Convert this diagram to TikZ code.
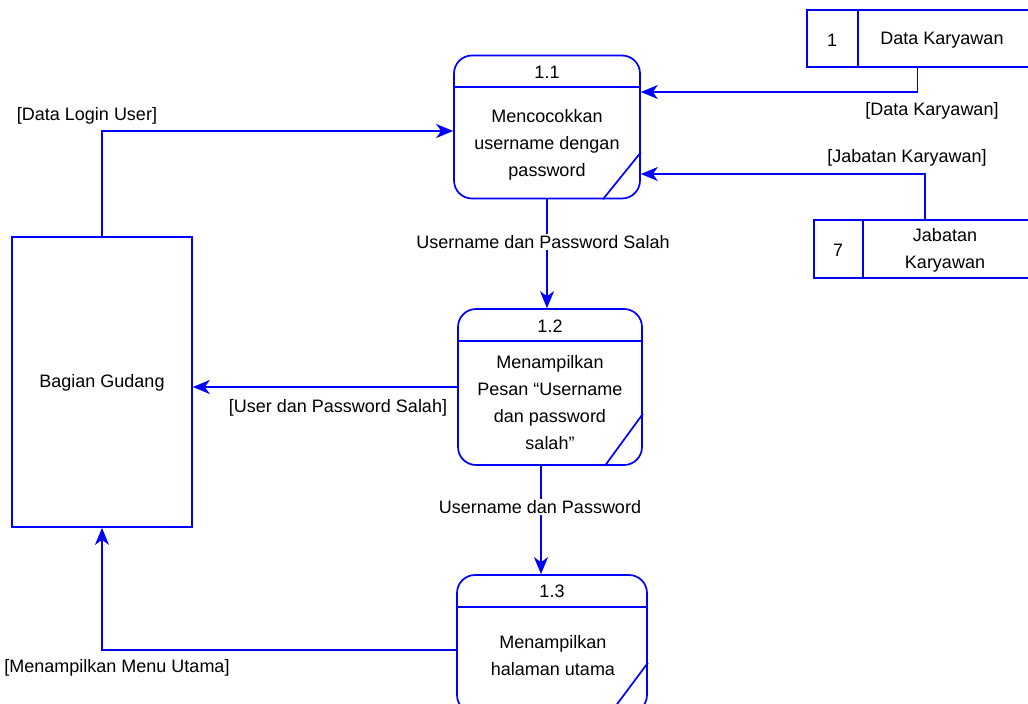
\documentclass[tikz,border=0pt]{standalone}
\usepackage{fontspec}
\setmainfont{Liberation Sans}
\usetikzlibrary{positioning, arrows.meta, calc}
\definecolor{dfdBlue}{RGB}{0,0,255}
\tikzstyle{proc}  = [draw=dfdBlue, line width=1.7pt, rounded corners=18pt, inner sep=0pt]
\tikzstyle{entity}= [draw=dfdBlue, line width=1.7pt, inner sep=0pt]
\tikzstyle{edge}  = [draw=dfdBlue, line width=1.7pt]
\tikzstyle{flow}  = [-{Stealth[length=17pt, width=14pt, inset=5pt]}, draw=dfdBlue, line width=1.7pt]
\tikzstyle{lbl}   = [fill=white, inner sep=1pt]

\begin{document}
\begin{tikzpicture}[x=1pt, y=-1pt, font=\fontsize{18}{27}\selectfont]
% page: 1028 x 704, y runs downwards
\useasboundingbox (0,0) rectangle (1028,704);
% external entity
\node[entity, minimum width=180pt, minimum height=290pt] (gudang) at (102,382) {};
\node (gudangtxt) at (102,383) {Bagian Gudang};
% processes
\node[proc, minimum width=186pt, minimum height=143pt] (p11) at (547,127) {};
\node[proc, minimum width=184pt, minimum height=156pt] (p12) at (550,387) {};
\node[proc, minimum width=190pt, minimum height=138pt] (p13) at (552,644) {};
\foreach \p/\d/\c in {p11/32/47, p12/33/52, p13/33/51}{
  \draw[edge] ($(\p.north west)+(0,\d)$) -- ($(\p.north east)+(0,\d)$);
  \draw[edge] ($(\p.south east)+(0,-\c)$) -- ($(\p.south east)+(-38,0)$);
}
\node (p11num) at (547,72) {1.1};
\node[align=center] (p11txt) at (547,145) {Mencocokkan\\username dengan\\password};
\node (p12num) at (550,326) {1.2};
\node[align=center] (p12txt) at (550,403) {Menampilkan\\Pesan “Username\\dan password\\salah”};
\node (p13num) at (552,591) {1.3};
\node[align=center] (p13txt) at (553,656) {Menampilkan\\halaman utama};
% data stores
\node[minimum width=221pt, minimum height=57pt, inner sep=0pt] (ds1) at (917.5,38.5) {};
\draw[edge] (ds1.north east) -- (ds1.north west) -- (ds1.south west) -- (ds1.south east);
\draw[edge] ($(ds1.north west)+(51,0)$) -- ($(ds1.south west)+(51,0)$);
\node (ds1id) at (832,40) {1};
\node (ds1txt) at (942,40) {Data Karyawan};
\node[minimum width=214pt, minimum height=58pt, inner sep=0pt] (ds7) at (921,249) {};
\draw[edge] (ds7.north east) -- (ds7.north west) -- (ds7.south west) -- (ds7.south east);
\draw[edge] ($(ds7.north west)+(49,0)$) -- ($(ds7.south west)+(49,0)$);
\node (ds7id) at (838,250) {7};
\node[align=center] (ds7txt) at (945,250) {Jabatan\\Karyawan};
% data flows
\draw[flow] (ds1.south) |- ([yshift=35pt]p11.east);
\draw[flow] ([xshift=4pt]ds7.north) |- ([yshift=-47pt]p11.east);
\draw[flow] (gudang.north) |- ([yshift=-4pt]p11.west);
\draw[flow] (p11.south) -- (p11.south |- p12.north);
\draw[flow] (p12.west) -- (p12.west -| gudang.east);
\draw[flow] ([xshift=-9pt]p12.south) -- ([xshift=-9pt]p12.south |- p13.north);
\draw[flow] ([yshift=-6pt]p13.west) -| (gudang.south);
% flow labels
\node[lbl] (l1) at (87,116) {[Data Login User]};
\node[lbl] (l2) at (932,111) {[Data Karyawan]};
\node[lbl] (l3) at (907,158) {[Jabatan Karyawan]};
\node[lbl] (l4) at (543,242) {Username dan Password Salah};
\node[lbl] (l5) at (338,408) {[User dan Password Salah]};
\node[lbl] (l6) at (540,507) {Username dan Password};
\node[lbl] (l7) at (117,668) {[Menampilkan Menu Utama]};
\end{tikzpicture}
\end{document}
